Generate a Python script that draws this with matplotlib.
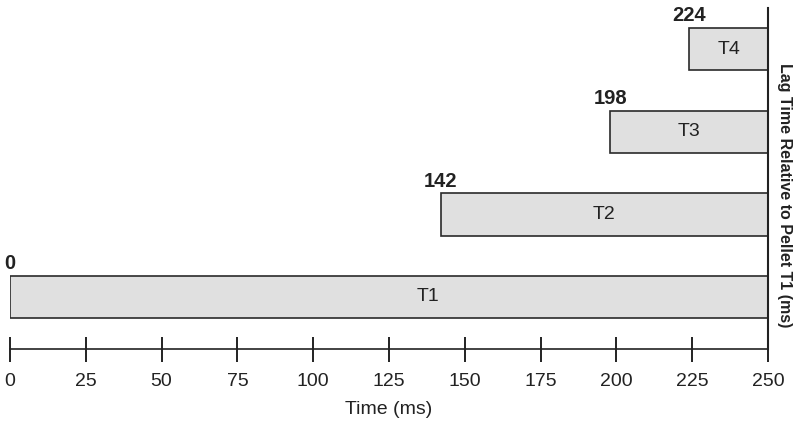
import numpy as np
import matplotlib
matplotlib.use("Agg")
import matplotlib.pyplot as plt

plt.rcParams['font.family'] = ['Liberation Sans', 'DejaVu Sans']

pellets = ['T1', 'T2', 'T3', 'T4']
starts = [0, 142, 198, 224]
end = 250
ticks = np.arange(0, 251, 25)

fig = plt.figure(figsize=(8, 4.28), dpi=100)
ax = fig.add_axes([0.0125, 0.1846, 0.9475, 0.7964])

ypos = np.arange(len(pellets))
ax.barh(ypos, [end - s for s in starts], left=starts, height=0.51,
        color='#e0e0e0', edgecolor='#2a2a2a', linewidth=1.2)

for y, s, name in zip(ypos, starts, pellets):
    # label of T1 sits right of the bar middle in the original
    lx = (s + end) / 2 if s > 0 else 138
    ax.text(lx, y, name, ha='center', va='center', fontsize=14, color='#222222')
    ax.text(s, y + 0.29, str(s), ha='center', va='bottom', fontsize=14.5,
            fontweight='bold', color='#222222')

ax.set_xlim(0, end)
ax.set_ylim(-0.63, 3.5)
ax.set_xticks(ticks)
ax.set_yticks([])
ax.tick_params(axis='x', direction='inout', length=18, width=1.4, colors='#222222',
               labelsize=14, pad=8)
ax.set_xlabel('Time (ms)', fontsize=14, color='#222222', labelpad=8)

for side in ['left', 'top']:
    ax.spines[side].set_visible(False)
ax.spines['bottom'].set_linewidth(1.2)
ax.spines['bottom'].set_color('#222222')
ax.spines['right'].set_linewidth(1.5)
ax.spines['right'].set_color('#222222')

ax.yaxis.set_label_position('right')
ax.set_ylabel('Lag Time Relative to Pellet T1 (ms)', rotation=270, fontsize=11.5,
              fontweight='bold', color='#222222', va='center')
ax.yaxis.set_label_coords(1.022, 0.452)

fig.savefig('out.png', dpi=100)
